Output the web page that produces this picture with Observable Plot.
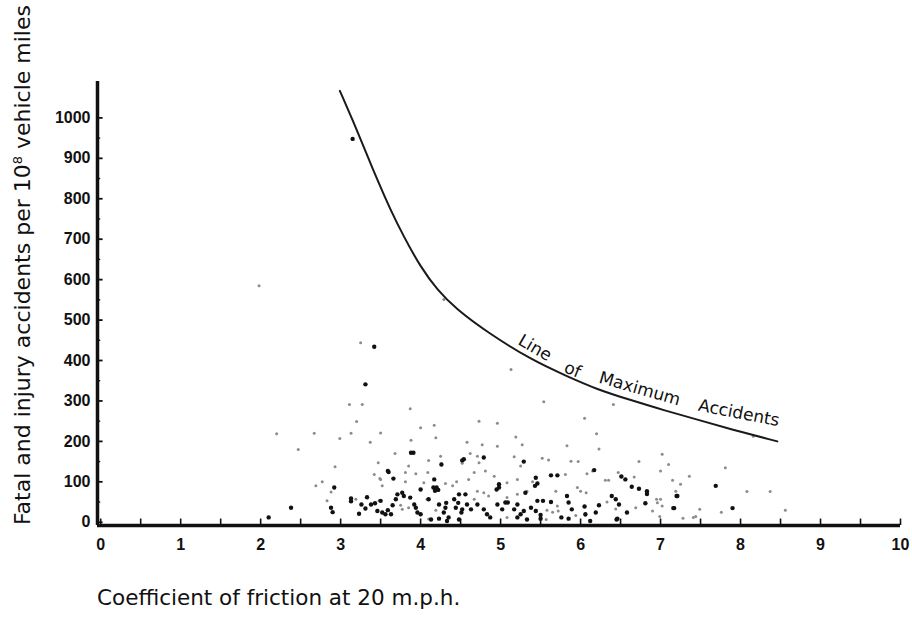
<!DOCTYPE html>
<html><head><meta charset="utf-8">
<script src="https://cdn.jsdelivr.net/npm/d3@7"></script>
<script src="https://cdn.jsdelivr.net/npm/@observablehq/plot@0.6"></script>
<style>body{margin:0;background:#fff}</style>
</head><body><div id="chart"></div>
<script>
// ---- data ----
const xTickValues = [0,1,2,3,4,5,6,7,8,9,10];
const xMinorTicks = [0,0.5,1,1.5,2,2.5,3,3.5,4,4.5,5,5.5,6,6.5,7,7.5,8,8.5,9,9.5,10];
const yTickValues = [0,100,200,300,400,500,600,700,800,900,1000];
const yMinorTicks = [50,150,250,350,450,550,650,750,850,950];

const xTitle = "Coefficient of friction at 20 m.p.h.";
const yTitleParts = ["Fatal and injury accidents per 10", "8", " vehicle miles"];

// Line of Maximum Accidents
const curveX = [2.99, 3.15, 3.29, 3.46, 3.625, 3.79, 4.0, 4.21, 4.44, 4.83, 5.4, 5.8, 6.21, 6.63, 7.04, 7.46, 7.88, 8.46];
const curveY = [1067, 995, 928, 846, 772, 706, 631, 574, 528, 470, 400, 364, 328, 302, 277, 254, 230, 200];
const curveWords = ["Line", "of", "Maximum", "Accidents"];
const wordX = [5.43, 5.9, 6.74, 7.98];
const wordY = [431, 377, 330, 270];
const wordAngle = [30, 22, 16, 11];

// dark (black) observations
const darkPoints = [[3.15,948],[3.42,434],[3.31,341],[2.92,86],[3.13,59],[3.13,52],[3.33,62],[2.88,36],[2.9,25],[3.26,44],[3.31,34],[3.38,44],[3.23,21],[3.56,20],[2.38,36],[2.10,12],[3.88,172],[3.91,172],[4.54,156],[4.52,153],[4.79,160],[5.29,150],[4.26,143],[3.59,127],[3.6,124],[3.66,108],[4.17,106],[4.98,94],[4.95,81],[5.44,110],[5.43,90],[4.16,86],[4.2,86],[4.18,78],[4.22,80],[3.43,47],[3.5,53],[3.65,42],[3.71,69],[3.79,65],[3.87,61],[3.92,44],[3.94,36],[3.59,30],[3.63,20],[3.46,28],[4.0,20],[4.10,57],[4.23,44],[4.31,36],[4.32,48],[4.42,57],[4.48,69],[4.47,48],[4.52,32],[4.58,44],[4.63,32],[4.56,69],[4.71,44],[4.79,32],[4.83,20],[4.87,12],[4.96,44],[5.02,32],[5.09,49],[5.21,44],[5.29,28],[5.38,36],[5.46,53],[5.44,28],[4.35,12],[4.23,9],[4.48,7],[5.21,12],[5.63,116],[5.71,116],[6.17,129],[6.51,113],[6.56,106],[6.64,88],[6.73,83],[6.83,77],[6.83,70],[7.2,65],[6.81,47],[7.17,35],[5.46,96],[5.53,53],[5.63,50],[5.83,65],[5.85,49],[5.89,32],[6.05,39],[6.23,42],[6.19,24],[6.39,65],[6.44,57],[6.48,44],[6.46,9],[5.5,9],[5.5,18],[5.85,9],[5.76,12],[6.58,24],[6.12,3],[6.45,7],[7.69,90],[7.21,65],[7.16,35],[7.9,35],[3.96,24],[3.52,24],[4.29,24],[4.44,36],[4.51,24],[4.13,7],[4.33,3],[5.25,20],[5.33,7],[6.06,20],[5.31,73],[5.06,49],[5.17,32],[4.98,86],[4.0,81],[3.77,73],[3.69,57]];

// light (grey) observations
const lightPoints = [[1.98,585],[4.29,551],[3.25,444],[5.13,378],[5.54,298],[6.41,291],[3.87,281],[3.11,291],[3.27,291],[6.05,257],[3.20,249],[4.73,250],[4.96,245],[4.0,234],[4.17,240],[2.20,219],[2.67,220],[3.13,220],[3.5,221],[2.99,207],[3.37,198],[6.2,219],[8.16,213],[3.88,203],[4.19,209],[4.58,198],[5.19,211],[5.83,189],[6.23,181],[4.77,192],[4.96,188],[5.27,192],[2.47,180],[7.02,168],[3.68,170],[4.25,163],[4.62,170],[4.71,163],[5.17,162],[5.52,158],[5.6,154],[5.88,151],[5.97,150],[3.47,147],[4.10,153],[4.26,145],[4.52,146],[4.73,147],[5.25,139],[6.73,150],[7.1,143],[2.93,137],[3.42,118],[3.49,108],[3.81,123],[3.85,139],[3.94,120],[4.09,123],[4.67,123],[4.81,127],[4.92,114],[5.81,118],[6.08,120],[6.15,127],[6.47,123],[6.67,112],[7.0,127],[7.81,135],[7.36,114],[3.5,106],[3.81,100],[4.04,98],[4.31,96],[4.45,100],[4.6,106],[5.08,98],[5.21,106],[5.40,100],[6.31,104],[6.35,104],[7.15,104],[7.25,94],[2.69,90],[2.77,100],[3.52,90],[2.88,75],[4.40,90],[4.71,77],[5.33,77],[5.69,77],[5.96,86],[6.0,77],[6.07,73],[7.19,77],[8.08,76],[8.37,76],[2.83,53],[3.19,57],[3.48,53],[3.75,42],[4.08,57],[4.85,65],[5.08,61],[5.21,69],[4.79,73],[6.95,57],[7.0,57],[6.96,48],[7.02,40],[6.9,28],[6.69,36],[7.17,36],[7.49,32],[7.76,25],[8.56,30],[3.45,28],[3.77,32],[4.19,30],[5.08,12],[6.99,14],[7.28,10],[7.41,12],[7.44,14],[5.58,30],[5.65,25],[4.1,8],[4.67,57],[3.85,36],[6.33,50],[6.44,33],[5.71,40],[5.72,28],[5.94,17],[6.06,17],[5.57,7]];

// ---- build ----
const curve = curveX.map((x, i) => ({x, y: curveY[i]}));
const words = curveWords.map((t, i) => ({t, x: wordX[i], y: wordY[i], a: wordAngle[i]}));
const xLo = -0.04, yLo = -8;

const chart = Plot.plot({
  width: 912, height: 622,
  marginLeft: 97, marginRight: 12, marginTop: 81, marginBottom: 97,
  style: {fontFamily: "'Liberation Sans', Arial, sans-serif", background: "#fff", color: "#111"},
  x: {domain: [xLo, 10]},
  y: {domain: [yLo, 1090]},
  marks: [
    Plot.axisX({ticks: xTickValues, tickSize: 0, tickPadding: 13, fontSize: 16, fontWeight: "bold", label: null, tickFormat: d => String(d)}),
    Plot.axisY({ticks: yTickValues, tickSize: 0, tickPadding: 7, fontSize: 16, fontWeight: "bold", label: null, tickFormat: d => String(d)}),
    Plot.ruleX(xMinorTicks, {x: d => d, y1: yLo, y2: 8, stroke: "#111", strokeWidth: 1.6}),
    Plot.ruleY(yTickValues, {y: d => d, x1: xLo, x2: 0.03, stroke: "#111", strokeWidth: 1.8}),
    Plot.ruleY(yMinorTicks, {y: d => d, x1: xLo, x2: 0.0, stroke: "#111", strokeWidth: 1.4}),
    Plot.dot(lightPoints, {x: d => d[0], y: d => d[1], r: 1.5, fill: "#8c8c8c", stroke: "none"}),
    Plot.dot(darkPoints, {x: d => d[0], y: d => d[1], r: 2.2, fill: "#111", stroke: "none"}),
    Plot.line(curve, {x: "x", y: "y", curve: "basis", stroke: "#1a1a1a", strokeWidth: 2}),
    Plot.text(words, {x: "x", y: "y", text: "t", rotate: "a", fontSize: 17, fill: "#111",
      fontFamily: "'DejaVu Sans', sans-serif", textAnchor: "middle", lineAnchor: "middle"}),
    Plot.ruleX([xLo], {stroke: "#111", strokeWidth: 3.5}),
    Plot.ruleY([yLo], {stroke: "#111", strokeWidth: 3.5})
  ]
});

const svg = d3.select(chart);
// y title
const yt = svg.append("text")
  .attr("transform", "translate(30,525) rotate(-90)")
  .attr("text-anchor", "start")
  .attr("textLength", 520)
  .attr("lengthAdjust", "spacing")
  .style("font-family", "'DejaVu Sans', sans-serif")
  .style("font-size", "22px")
  .attr("fill", "#111");
yt.append("tspan").text(yTitleParts[0]);
yt.append("tspan").attr("dy", -8).style("font-size", "13px").text(yTitleParts[1]);
yt.append("tspan").attr("dy", 8).text(yTitleParts[2]);
// x title
svg.append("text")
  .attr("x", 97).attr("y", 605)
  .attr("text-anchor", "start")
  .style("font-family", "'DejaVu Sans', sans-serif")
  .style("font-size", "21.5px")
  .attr("fill", "#111")
  .text(xTitle);

document.getElementById("chart").append(chart);
</script>
</body></html>
